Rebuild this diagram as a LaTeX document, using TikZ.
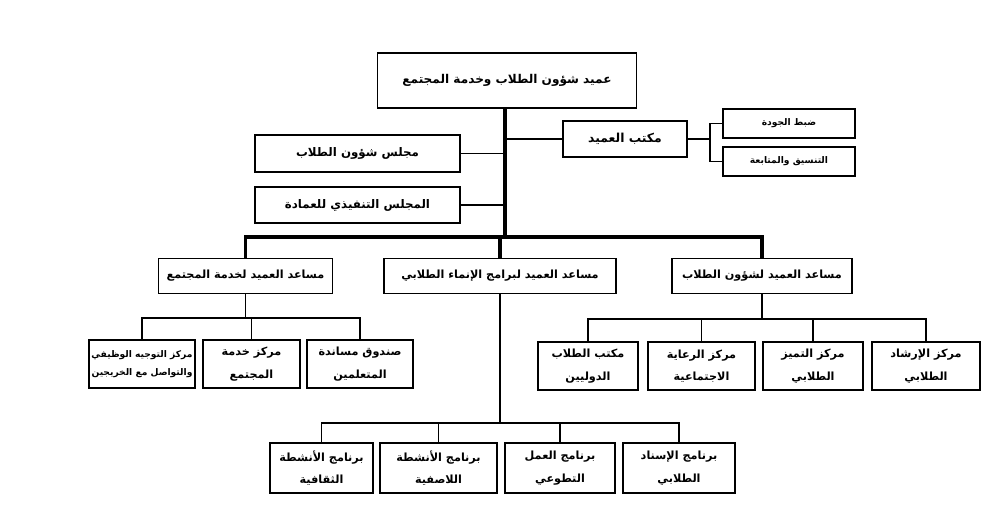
\documentclass[tikz,border=0pt]{standalone}
\usepackage{fontspec}
\newfontfamily\arabicfont[Script=Arabic]{DejaVu Sans}
\TeXXeTstate=1
\newcommand{\ar}[1]{\beginR #1\endR}

\begin{document}
\begin{tikzpicture}[x=0.025cm,y=-0.025cm,
  box/.style={draw,line width=1.3pt,fill=white,inner sep=0pt,align=center,
    font=\arabicfont\bfseries\fontsize{8}{16}\selectfont},
  sz/.style 2 args={minimum width=#1*0.025cm,minimum height=#2*0.025cm},
  trunk/.style={line width=2.3pt},
  link/.style={line width=1.4pt}]
  \useasboundingbox (0,0) rectangle (1008,531);
  % العميد
  \node[box,sz={259}{55},font=\arabicfont\bfseries\fontsize{8.6}{12}\selectfont]
    (dean) at (507,80.5) {\ar{عميد شؤون الطلاب وخدمة المجتمع}};
  % مكتب العميد
  \node[box,sz={124}{36},font=\arabicfont\bfseries\fontsize{8.8}{12}\selectfont]
    (office) at (625,139) {\ar{مكتب العميد}};
  \node[box,sz={132}{29},font=\arabicfont\bfseries\fontsize{6.5}{8}\selectfont]
    (quality) at (789,123.5) {\ar{ضبط الجودة}};
  \node[box,sz={132}{29},font=\arabicfont\bfseries\fontsize{6.5}{8}\selectfont]
    (follow) at (789,161.5) {\ar{التنسيق والمتابعة}};
  % المجالس
  \node[box,sz={205}{37},font=\arabicfont\bfseries\fontsize{8.4}{12}\selectfont]
    (council) at (357.5,153.5) {\ar{مجلس شؤون الطلاب}};
  \node[box,sz={205}{36},font=\arabicfont\bfseries\fontsize{8.4}{12}\selectfont]
    (exec) at (357.5,205) {\ar{المجلس التنفيذي للعمادة}};
  % المساعدون
  \node[box,sz={174}{35}] (asCom) at (245.5,276) {\ar{مساعد العميد لخدمة المجتمع}};
  \node[box,sz={232}{35}] (asDev) at (500,276) {\ar{مساعد العميد لبرامج الإنماء الطلابي}};
  \node[box,sz={180}{35}] (asStu) at (762,276) {\ar{مساعد العميد لشؤون الطلاب}};
  % خدمة المجتمع
  \node[box,sz={106}{48},font=\arabicfont\bfseries\fontsize{6.5}{13}\selectfont]
    (career) at (142,364) {\ar{مركز التوجيه الوظيفي}\\\ar{والتواصل مع الخريجين}};
  \node[box,sz={97}{48}] (comserv) at (251.5,364) {\ar{مركز خدمة}\\\ar{المجتمع}};
  \node[box,sz={106}{48}] (fund) at (360,364) {\ar{صندوق مساندة}\\\ar{المتعلمين}};
  % شؤون الطلاب
  \node[box,sz={100}{48}] (intl) at (588,366) {\ar{مكتب الطلاب}\\\ar{الدوليين}};
  \node[box,sz={107}{48}] (social) at (701.5,366) {\ar{مركز الرعاية}\\\ar{الاجتماعية}};
  \node[box,sz={100}{48}] (excel) at (813,366) {\ar{مركز التميز}\\\ar{الطلابي}};
  \node[box,sz={108}{48}] (guide) at (926,366) {\ar{مركز الإرشاد}\\\ar{الطلابي}};
  % الإنماء الطلابي
  \node[box,sz={103}{50}] (cult) at (321.5,468) {\ar{برنامج الأنشطة}\\\ar{الثقافية}};
  \node[box,sz={117}{50}] (extra) at (438.5,468) {\ar{برنامج الأنشطة}\\\ar{اللاصفية}};
  \node[box,sz={110}{50}] (volun) at (560,468) {\ar{برنامج العمل}\\\ar{التطوعي}};
  \node[box,sz={112}{50}] (support) at (679,468) {\ar{برنامج الإسناد}\\\ar{الطلابي}};

  % الخط الرئيسي
  \coordinate (hub) at (505,237);
  \draw[trunk] (dean.south -| hub) -- (hub);
  \foreach \a in {asCom,asDev,asStu}
    \draw[trunk,line join=miter] (hub) -| (\a.north);
  \draw[link] (office.west) -- (office.west -| hub);
  \draw[link] (council.east) -- (council.east -| hub);
  \draw[link] (exec.east) -- (exec.east -| hub);
  % فروع مكتب العميد
  \coordinate (split) at (710,139);
  \draw[link] (office.east) -- (split);
  \draw[link] (quality.west) -| (split) |- (follow.west);
  % فروع المساعدين
  \draw[link] (asCom.south) -- ++(0,24) coordinate (jCom);
  \foreach \b in {career,comserv,fund}
    \draw[link] (jCom) -| (\b.north);
  \draw[link] (asStu.south) -- ++(0,25) coordinate (jStu);
  \foreach \b in {intl,social,excel,guide}
    \draw[link] (jStu) -| (\b.north);
  \draw[link] (asDev.south) -- ++(0,129) coordinate (jDev);
  \foreach \b in {cult,extra,volun,support}
    \draw[link] (jDev) -| (\b.north);
\end{tikzpicture}
\end{document}
